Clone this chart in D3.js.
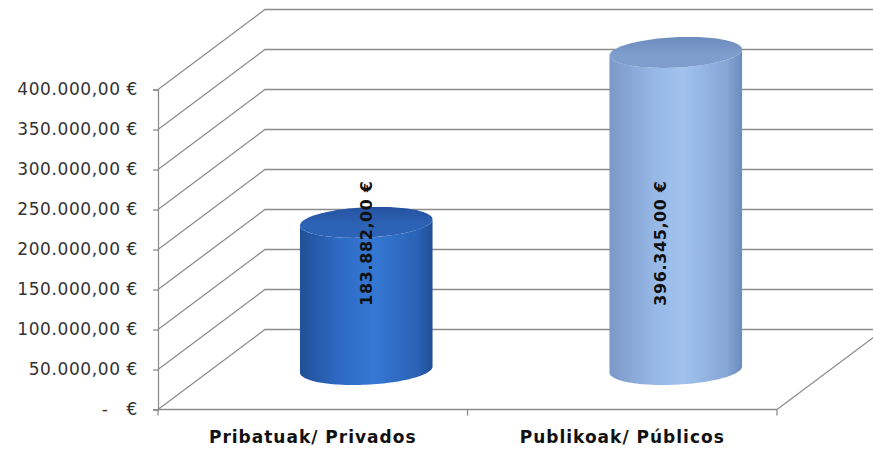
<!DOCTYPE html>
<html><head><meta charset="utf-8">
<script src="https://cdn.jsdelivr.net/npm/d3@7"></script>
<style>
html,body{margin:0;padding:0;background:#fff;}
svg{display:block;}
text{white-space:pre;}
</style></head>
<body>
<svg id="chart" width="873" height="455"></svg>
<script>
const categories = ["Pribatuak/ Privados", "Publikoak/ Públicos"];
const values = [183882, 396345];
const valueLabels = ["183.882,00 €", "396.345,00 €"];
const tickValues = [0, 50000, 100000, 150000, 200000, 250000, 300000, 350000, 400000];
const tickLabels = ["-   €", "50.000,00 €", "100.000,00 €", "150.000,00 €", "200.000,00 €", "250.000,00 €", "300.000,00 €", "350.000,00 €", "400.000,00 €"];

const svg = d3.select("#chart");
const W = 873, H = 455;
const depth = {dx: 107, dy: -80};
const y = d3.scaleLinear().domain([0, 400000]).range([409.5, 89.5]);
const x = d3.scaleBand().domain(categories).range([158, 777]).padding(0);
const gridColor = "#8c8c8c";

svg.append("defs").append("clipPath").attr("id","clip").append("rect").attr("width",W).attr("height",H);
const g = svg.append("g").attr("clip-path","url(#clip)");

const x0 = x.range()[0], x1 = x.range()[1];
g.selectAll("path.grid").data(tickValues).join("path")
  .attr("class","grid")
  .attr("fill","none").attr("stroke",gridColor).attr("stroke-width",1.3)
  .attr("d", t => `M${x0},${y(t)} L${x0+depth.dx},${y(t)+depth.dy} L${x1+depth.dx},${y(t)+depth.dy}`);

g.append("path").attr("fill","none").attr("stroke",gridColor).attr("stroke-width",1.3)
  .attr("d", `M${x1},${y(0)} L${x1+depth.dx},${y(0)+depth.dy}`);

const fmtMap = new Map(tickValues.map((v,i)=>[v,tickLabels[i]]));
const yAxis = d3.axisLeft(y).tickValues(tickValues).tickSize(5).tickPadding(15)
  .tickFormat(d => fmtMap.get(d));
const ya = g.append("g").attr("transform",`translate(${x0},0)`).call(yAxis);
ya.select(".domain").attr("stroke",gridColor).attr("stroke-width",1.3);
ya.selectAll(".tick line").attr("stroke",gridColor).attr("stroke-width",1.3);
ya.selectAll(".tick text").attr("fill","#333").attr("font-family","'DejaVu Sans', sans-serif")
  .attr("font-size",17).attr("letter-spacing","0.6px");

g.append("line").attr("x1",x0).attr("x2",x1).attr("y1",y(0)).attr("y2",y(0))
  .attr("stroke",gridColor).attr("stroke-width",1.3);
const bounds = [x0, ...categories.slice(1).map(c=>x(c)), x1];
g.selectAll("line.xt").data(bounds).join("line").attr("class","xt")
  .attr("x1",d=>d).attr("x2",d=>d).attr("y1",y(0)).attr("y2",y(0)+6)
  .attr("stroke",gridColor).attr("stroke-width",1.3);

g.selectAll("text.cat").data(categories).join("text").attr("class","cat")
  .attr("x", d => x(d)+x.bandwidth()/2).attr("y", 443)
  .attr("text-anchor","middle").attr("font-family","'DejaVu Sans', sans-serif")
  .attr("font-weight","bold").attr("font-size",17).attr("letter-spacing","1px")
  .attr("fill","#111").text(d=>d);

const defs = svg.select("defs");
const palettes = [
  {stops:[["0%","#1e4b8f"],["30%","#2d69c2"],["55%","#3478d4"],["85%","#2a62b6"],["100%","#1b4585"]], top:"#2d63b6", topEdge:"#2552a0"},
  {stops:[["0%","#7793c2"],["35%","#96b8e6"],["55%","#a1c3ee"],["85%","#86a7d6"],["100%","#6080b0"]], top:"#7e9ecd", topEdge:"#6d8bbc"}
];
const a = 65, bx = 13, by = 15.5;
const thR = Math.atan2(bx, a);
function pt(cx, cy, th){ return [cx + a*Math.cos(th) + bx*Math.sin(th), cy - by*Math.sin(th)]; }
function ellipsePath(cx, cy, from, to, n, move){
  let d = "";
  for(let i=0;i<=n;i++){ const th = from + (to-from)*i/n; const p = pt(cx,cy,th); d += (i===0 && move ? "M":"L") + p[0].toFixed(2)+","+p[1].toFixed(2)+" "; }
  return d;
}
values.forEach((v,i)=>{
  const cx = x(categories[i]) + x.bandwidth()/2 + depth.dx/2;
  const baseY = y(0) + depth.dy/2;
  const topY = y(v) + depth.dy/2;
  const pal = palettes[i];
  const gid = "grad"+i;
  const lg = defs.append("linearGradient").attr("id",gid).attr("gradientUnits","userSpaceOnUse")
    .attr("x1",cx-a-8).attr("x2",cx+a+8).attr("y1",0).attr("y2",0);
  pal.stops.forEach(st=>lg.append("stop").attr("offset",st[0]).attr("stop-color",st[1]));
  const tg = "tgrad"+i;
  const lt = defs.append("linearGradient").attr("id",tg).attr("x1","0").attr("x2","0").attr("y1","0").attr("y2","1");
  lt.append("stop").attr("offset","0%").attr("stop-color",pal.topEdge);
  lt.append("stop").attr("offset","60%").attr("stop-color",pal.top);
  lt.append("stop").attr("offset","100%").attr("stop-color",pal.top);
  let d = ellipsePath(cx, baseY, thR, thR-Math.PI, 60, true);
  d += ellipsePath(cx, topY, thR-Math.PI, thR, 60, false) + "Z";
  g.append("path").attr("d", d).attr("fill", `url(#${gid})`);
  g.append("path").attr("d", ellipsePath(cx, topY, 0, 2*Math.PI, 120, true)+"Z").attr("fill",`url(#${tg})`);
});

const labelX = [366, 660];
g.selectAll("text.val").data(values).join("text").attr("class","val")
  .attr("transform",(d,i)=>`translate(${labelX[i]},${y(208000)}) rotate(-90)`)
  .attr("text-anchor","middle").attr("dy","0.35em")
  .attr("font-family","'DejaVu Sans', sans-serif").attr("font-weight","bold").attr("font-size",16)
  .attr("letter-spacing","0.6px").attr("fill","#111")
  .text((d,i)=>valueLabels[i]);
</script>
</body></html>
